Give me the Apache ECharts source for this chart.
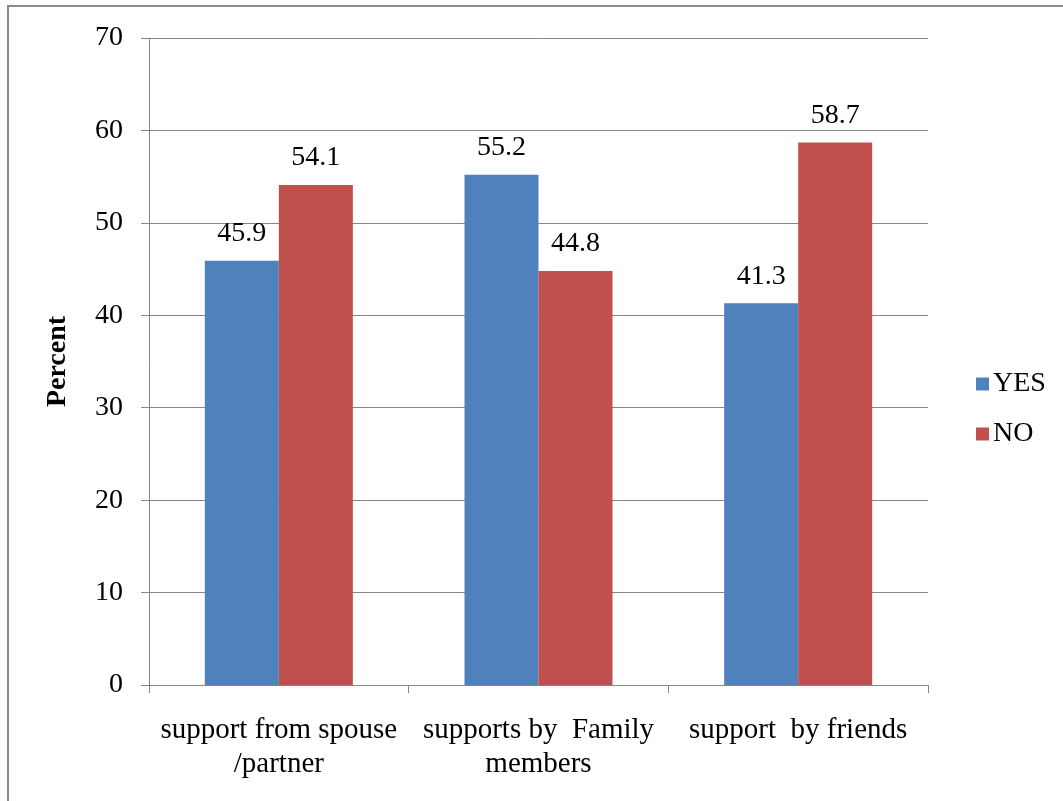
<!DOCTYPE html>
<html>
<head>
<meta charset="utf-8">
<style>
  html, body { margin: 0; padding: 0; background: #fff; }
  #frame { position: absolute; left: 7px; top: 5px; width: 1056px; height: 796px;
           border-left: 2px solid #8a8a8a; border-top: 2px solid #8a8a8a; box-sizing: border-box; }
  #chart { position: absolute; left: 0; top: 0; width: 1063px; height: 801px; }
</style>
<script src="https://cdn.jsdelivr.net/npm/echarts@6/dist/echarts.min.js"></script>
</head>
<body>
<div id="frame"></div>
<div id="chart"></div>
<script>
// Support sources and the share answering yes / no
const categories = ['support from spouse\n/partner', 'supports by  Family\nmembers', 'support  by friends'];
const yesValues = [45.9, 55.2, 41.3];
const noValues = [54.1, 44.8, 58.7];
const seriesNames = ['YES', 'NO'];

const FONT = '"Liberation Serif", "Times New Roman", serif';
const chart = echarts.init(document.getElementById('chart'), null, { renderer: 'canvas' });

const labelStyle = {
  show: true, position: 'top', distance: 13,
  color: '#000', fontFamily: FONT, fontSize: 28
};

chart.setOption({
  animation: false,
  backgroundColor: 'transparent',
  grid: { left: 149, right: 135, top: 38, bottom: 116, containLabel: false },
  legend: {
    data: seriesNames, orient: 'vertical', left: 971, top: 365,
    itemWidth: 13, itemHeight: 13, itemGap: 22, icon: 'rect',
    textStyle: { fontFamily: FONT, fontSize: 28, color: '#000', padding: [0, 0, 0, -1] }
  },
  xAxis: {
    type: 'category', data: categories,
    axisLine: { lineStyle: { color: '#868686', width: 1 } },
    axisTick: { show: true, length: 8, alignWithLabel: false, lineStyle: { color: '#868686' } },
    axisLabel: { color: '#000', fontFamily: FONT, fontSize: 29, margin: 28, lineHeight: 34, interval: 0 }
  },
  yAxis: {
    type: 'value', min: 0, max: 70, interval: 10,
    name: 'Percent', nameLocation: 'middle', nameGap: 77, nameRotate: 90,
    nameTextStyle: { fontFamily: FONT, fontSize: 28, fontWeight: 'bold', color: '#000' },
    axisLine: { show: true, lineStyle: { color: '#868686', width: 1 } },
    axisTick: { show: true, length: 8, lineStyle: { color: '#868686' } },
    axisLabel: { color: '#000', fontFamily: FONT, fontSize: 28, margin: 26 },
    splitLine: { show: true, lineStyle: { color: '#868686', width: 1 } }
  },
  series: [
    { name: seriesNames[0], type: 'bar', data: yesValues, barGap: '0%', barCategoryGap: '43%',
      itemStyle: { color: '#4F81BD' }, label: labelStyle },
    { name: seriesNames[1], type: 'bar', data: noValues, barGap: '0%', barCategoryGap: '43%',
      itemStyle: { color: '#C0504D' }, label: labelStyle }
  ]
});
</script>
</body>
</html>
